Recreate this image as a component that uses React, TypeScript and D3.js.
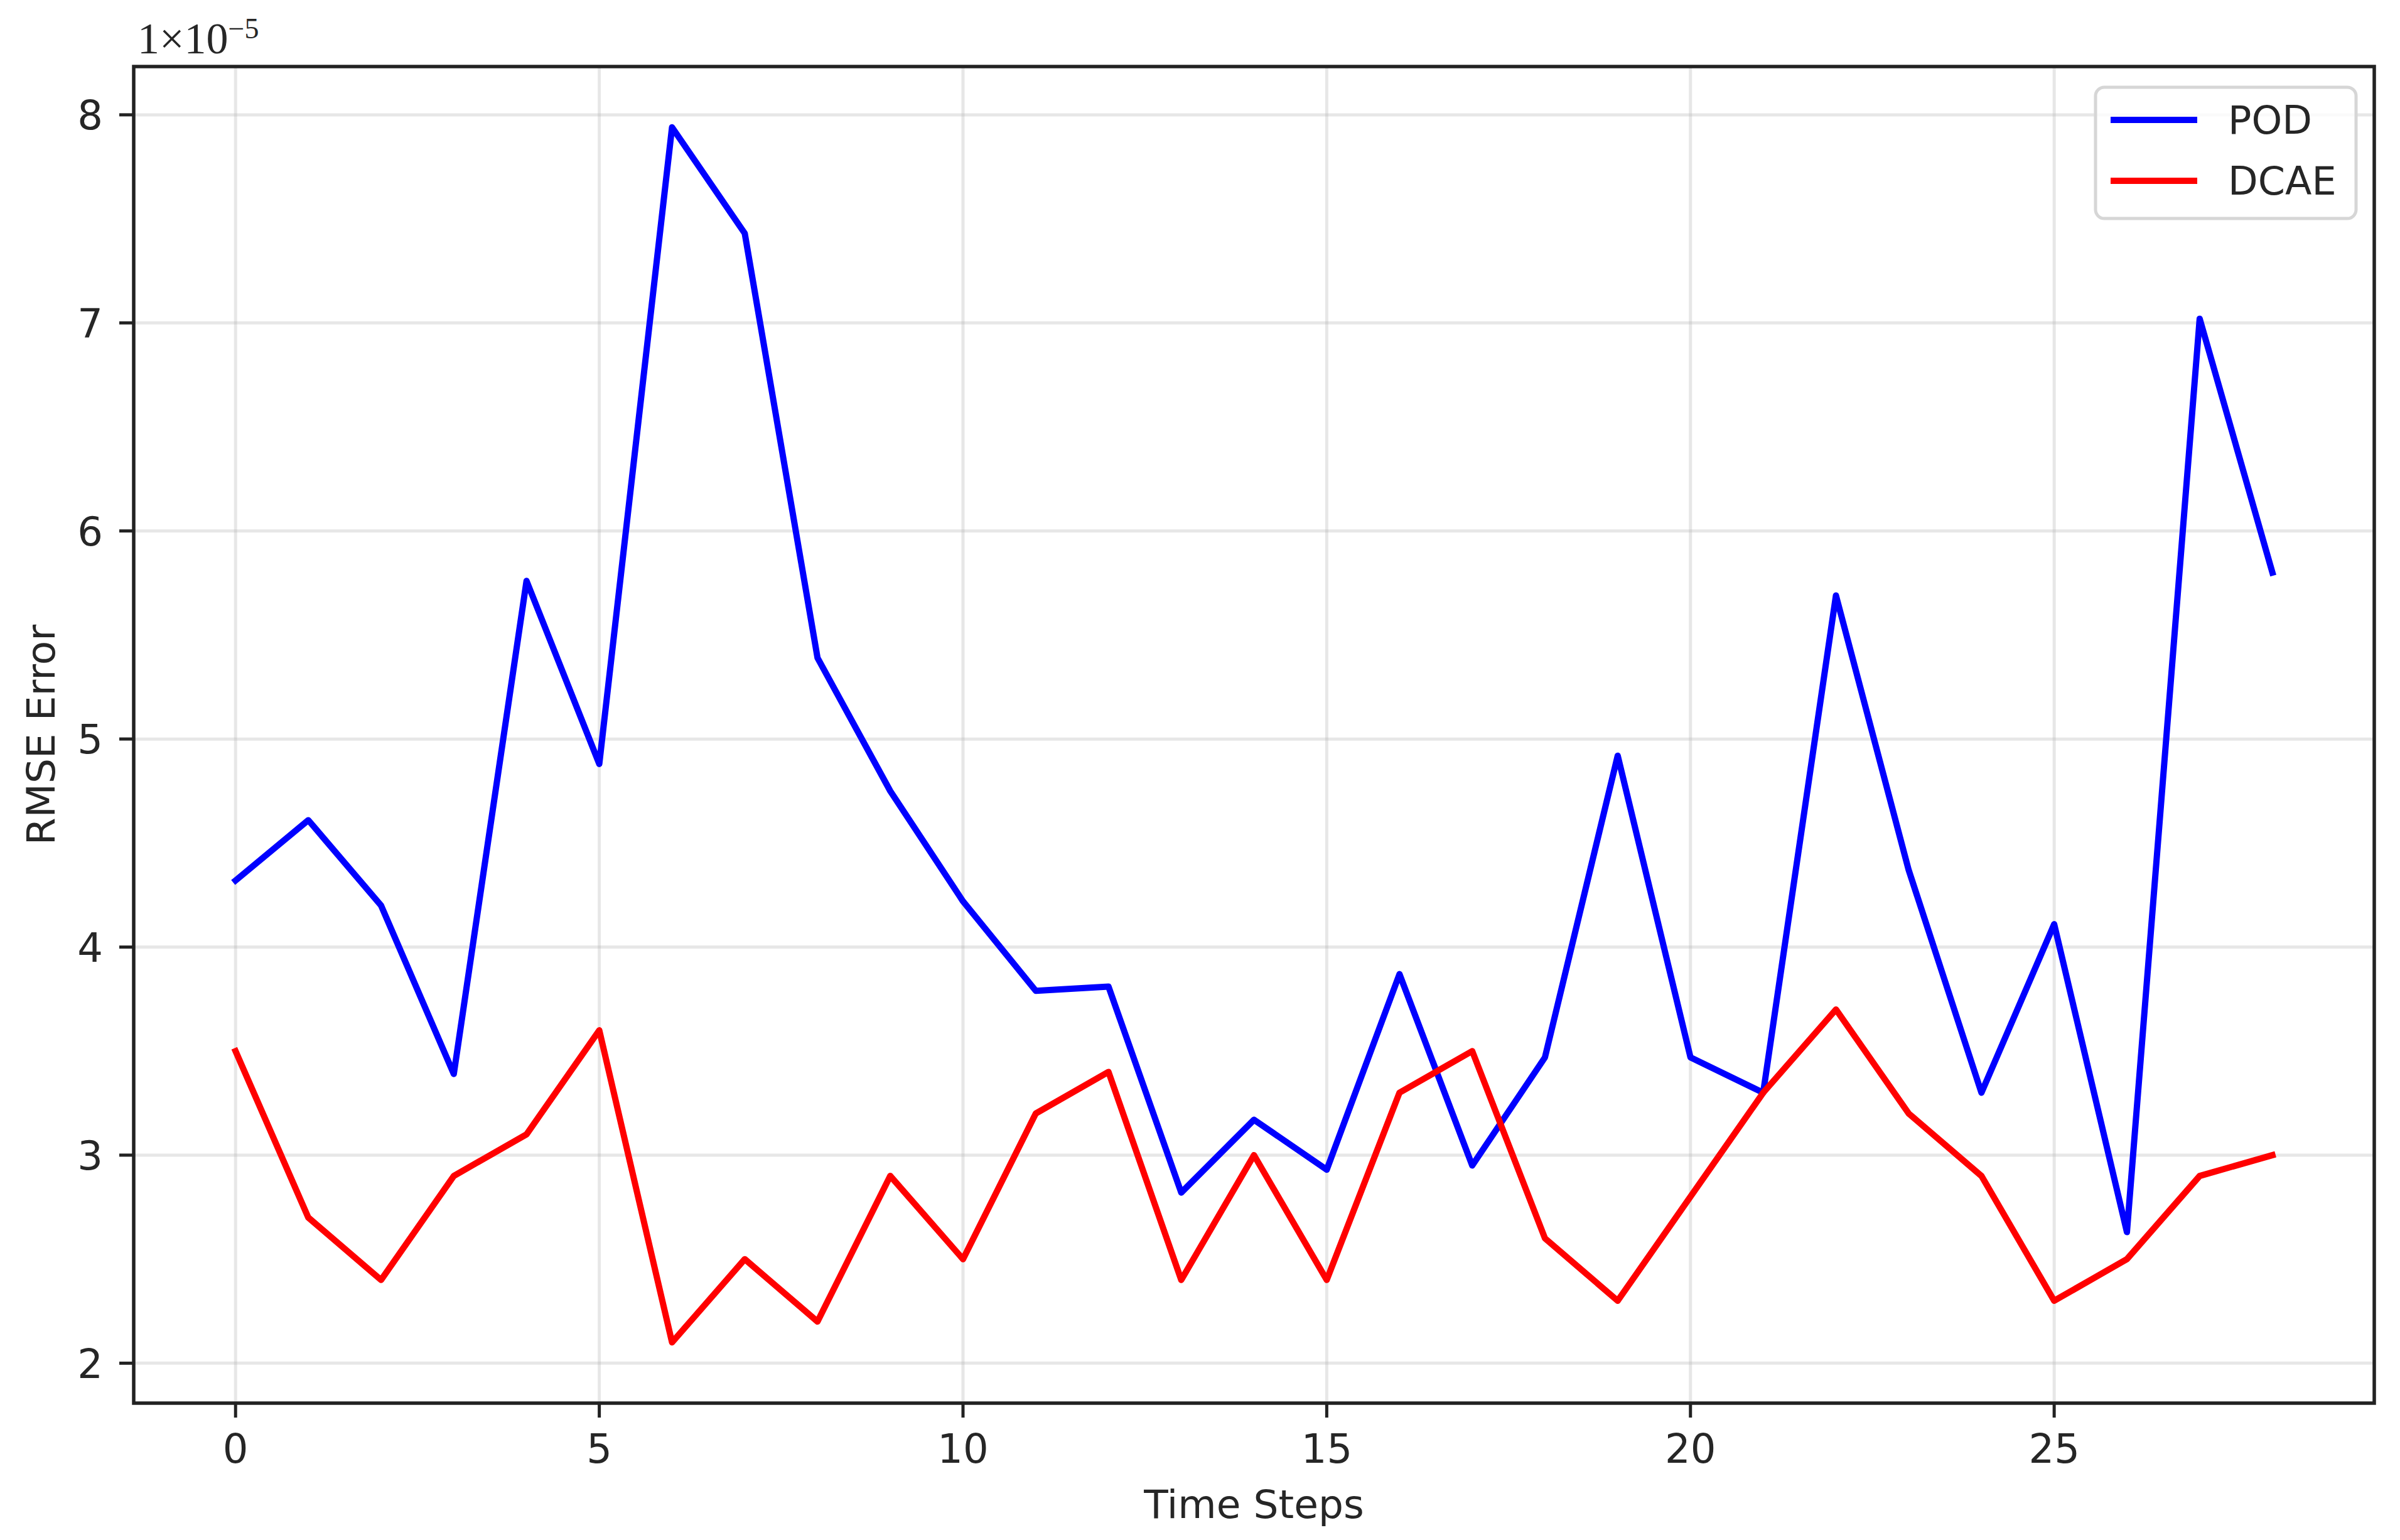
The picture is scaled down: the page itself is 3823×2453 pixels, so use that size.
import React, { useEffect } from "react";
import * as d3 from "d3";

const timeSteps = d3.range(0, 29);
const podValues = [
  4.32, 4.61, 4.2, 3.39, 5.76, 4.88, 7.94, 7.43, 5.39, 4.75, 4.22, 3.79, 3.81, 2.82, 3.17,
  2.93, 3.87, 2.95, 3.47, 4.92, 3.47, 3.3, 5.69, 4.37, 3.3, 4.11, 2.63, 7.02, 5.8,
];
const dcaeValues = [
  3.5, 2.7, 2.4, 2.9, 3.1, 3.6, 2.1, 2.5, 2.2, 2.9, 2.5, 3.2, 3.4, 2.4, 3.0, 2.4, 3.3, 3.5,
  2.6, 2.3, 2.8, 3.3, 3.7, 3.2, 2.9, 2.3, 2.5, 2.9, 3.0,
];
const xTicks = [0, 5, 10, 15, 20, 25];
const yTicks = [2, 3, 4, 5, 6, 7, 8];
const seriesNames = ["POD", "DCAE"];
const seriesColors = ["#0000ff", "#ff0000"];

const W = 3823;
const H = 2453;
const left = 213;
const right = 3782;
const top = 106;
const bottom = 2235;
const FONT = "'DejaVu Sans', sans-serif";

export default function App() {
  useEffect(() => {
    document.body.style.margin = "0";
  }, []);

  const xMin = d3.min(timeSteps)!;
  const xMax = d3.max(timeSteps)!;
  const xPad = (xMax - xMin) * 0.05;
  const x = d3.scaleLinear().domain([xMin - xPad, xMax + xPad]).range([left, right]);

  const all = [...podValues, ...dcaeValues];
  const yLo = d3.min(all)!;
  const yHi = d3.max(all)!;
  const yPad = (yHi - yLo) * 0.05;
  const y = d3.scaleLinear().domain([yLo - yPad, yHi + yPad]).range([bottom, top]);

  const line = d3
    .line<number>()
    .x((_, i) => x(timeSteps[i]))
    .y((d) => y(d));

  const series = [podValues, dcaeValues];

  const tickFont = 64;
  const capHalf = tickFont * 0.729 * 0.5;

  // legend geometry
  const lgX = 3338;
  const lgY = 139;
  const lgW = 415;
  const lgH = 209;
  const rowY = [191, 288];

  return (
    <svg width={W} height={H} style={{ display: "block", background: "#fff" }}>
      <rect x={0} y={0} width={W} height={H} fill="#fff" />
      {/* grid */}
      <g stroke="#b0b0b0" strokeOpacity={0.3} strokeWidth={5}>
        {xTicks.map((t) => (
          <line key={"gx" + t} x1={x(t)} x2={x(t)} y1={top} y2={bottom} />
        ))}
        {yTicks.map((t) => (
          <line key={"gy" + t} x1={left} x2={right} y1={y(t)} y2={y(t)} />
        ))}
      </g>
      {/* series */}
      {series.map((s, i) => (
        <path
          key={seriesNames[i]}
          d={line(s) || ""}
          fill="none"
          stroke={seriesColors[i]}
          strokeWidth={10}
          strokeLinejoin="round"
          strokeLinecap="square"
        />
      ))}
      {/* spines */}
      <rect
        x={left}
        y={top}
        width={right - left}
        height={bottom - top}
        fill="none"
        stroke="#222"
        strokeWidth={5.5}
      />
      {/* x ticks */}
      <g>
        {xTicks.map((t) => (
          <g key={"xt" + t}>
            <line x1={x(t)} x2={x(t)} y1={bottom} y2={bottom + 23} stroke="#222" strokeWidth={5} />
            <text
              x={x(t)}
              y={2330}
              textAnchor="middle"
              fontFamily={FONT}
              fontSize={tickFont}
              fill="#262626"
            >
              {t}
            </text>
          </g>
        ))}
      </g>
      {/* y ticks */}
      <g>
        {yTicks.map((t) => (
          <g key={"yt" + t}>
            <line x1={left - 23} x2={left} y1={y(t)} y2={y(t)} stroke="#222" strokeWidth={5} />
            <text
              x={164}
              y={y(t) + capHalf}
              textAnchor="end"
              fontFamily={FONT}
              fontSize={tickFont}
              fill="#262626"
            >
              {t}
            </text>
          </g>
        ))}
      </g>
      {/* offset text */}
      <text x={219} y={85} fontFamily="'Liberation Serif', serif" fontSize={70} fill="#262626">
        1×10
        <tspan fontSize={46} dy={-24}>
          −5
        </tspan>
      </text>
      {/* axis labels */}
      <text
        x={(left + right) / 2}
        y={2418}
        textAnchor="middle"
        fontFamily={FONT}
        fontSize={63}
        fill="#262626"
      >
        Time Steps
      </text>
      <text
        transform={`translate(87, ${(top + bottom) / 2}) rotate(-90)`}
        textAnchor="middle"
        fontFamily={FONT}
        fontSize={63}
        fill="#262626"
      >
        RMSE Error
      </text>
      {/* legend */}
      <rect
        x={lgX}
        y={lgY}
        width={lgW}
        height={lgH}
        rx={14}
        ry={14}
        fill="#fff"
        fillOpacity={0.8}
        stroke="#d6d6d6"
        strokeWidth={5}
      />
      {seriesNames.map((n, i) => (
        <g key={"lg" + n}>
          <line
            x1={3362}
            x2={3500}
            y1={rowY[i]}
            y2={rowY[i]}
            stroke={seriesColors[i]}
            strokeWidth={10}
            strokeLinecap="butt"
          />
          <text
            x={3549}
            y={rowY[i] + 22}
            fontFamily={FONT}
            fontSize={62}
            fill="#262626"
          >
            {n}
          </text>
        </g>
      ))}
    </svg>
  );
}
